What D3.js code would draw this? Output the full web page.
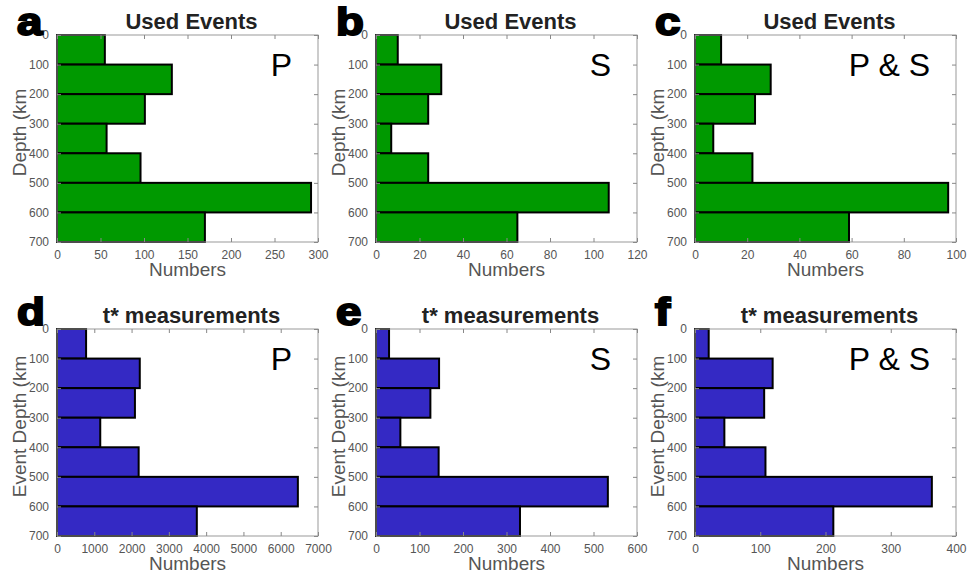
<!DOCTYPE html>
<html>
<head>
<meta charset="utf-8">
<script src="https://cdn.jsdelivr.net/npm/d3@7"></script>
<style>
  body { margin: 0; background: #fff; }
  svg { display: block; font-family: "Liberation Sans", Arial, sans-serif; }
</style>
</head>
<body>
<svg id="chart" width="967" height="575"></svg>
<script>
// depth bins (km)
const depthBins = [0, 100, 200, 300, 400, 500, 600, 700];

// counts per bin
const usedP = [55, 132, 101, 57, 96, 292, 170];
const usedS = [10, 30, 24, 7, 24, 107, 65];
const usedPS = [10, 29, 23, 7, 22, 97, 59];
const tstarP = [780, 2220, 2090, 1160, 2190, 6460, 3750];
const tstarS = [30, 145, 125, 56, 144, 533, 331];
const tstarPS = [21, 119, 106, 45, 108, 363, 212];

const panelLetters = ["a", "b", "c", "d", "e", "f"];
const phaseLabels = ["P", "S", "P & S", "P", "S", "P & S"];
const xMax = [300, 120, 100, 7000, 600, 400];
const xStep = [50, 20, 20, 1000, 100, 100];
const rowTitles = ["Used Events", "t* measurements"];
const rowYLabels = ["Depth (km", "Event Depth (km"];
const rowColors = ["#009900", "#3429c4"];

const series = [usedP, usedS, usedPS, tstarP, tstarS, tstarPS];

const svg = d3.select("svg#chart");
const colX = [57, 376, 695];
const rowY = [35, 329];
const pw = 261, ph = 207;

series.forEach((vals, i) => {
  const row = Math.floor(i / 3), col = i % 3;
  const g = svg.append("g")
    .attr("transform", `translate(${colX[col]},${rowY[row]})`);

  const x = d3.scaleLinear().domain([0, xMax[i]]).range([0, pw]);
  const y = d3.scaleLinear().domain([0, 700]).range([0, ph]);
  const xTicks = d3.range(0, xMax[i] + 1e-9, xStep[i]);
  const yTicks = depthBins;

  const bins = vals.map((v, k) => ({ v, y0: depthBins[k], y1: depthBins[k + 1] }));

  // bars
  g.selectAll("rect.bar")
    .data(bins)
    .enter()
    .append("rect")
    .attr("class", "bar")
    .attr("x", x(0))
    .attr("y", (d) => y(d.y0))
    .attr("width", (d) => x(d.v))
    .attr("height", (d) => y(d.y1) - y(d.y0))
    .style("fill", rowColors[row])
    .style("stroke", "#000")
    .style("stroke-width", 2);

  // box
  g.append("rect")
    .attr("width", pw).attr("height", ph)
    .style("fill", "none").style("stroke", "#999").style("stroke-width", 1);

  // inward ticks on all sides
  const tl = 4;
  const axisStyle = (sel) => {
    sel.select(".domain").remove();
    sel.selectAll(".tick line").style("stroke", "#888");
    sel.selectAll(".tick text").style("fill", "#555").style("font-size", "12px");
  };
  g.append("g").attr("transform", `translate(0,${ph})`)
    .call(d3.axisBottom(x).tickValues(xTicks).tickSizeInner(-tl).tickPadding(8).tickFormat(d3.format("d")))
    .call(axisStyle);
  g.append("g")
    .call(d3.axisTop(x).tickValues(xTicks).tickSizeInner(-tl).tickFormat(""))
    .call(axisStyle);
  g.append("g")
    .call(d3.axisLeft(y).tickValues(yTicks).tickSizeInner(-tl).tickPadding(8).tickFormat(d3.format("d")))
    .call(axisStyle);
  g.append("g").attr("transform", `translate(${pw},0)`)
    .call(d3.axisRight(y).tickValues(yTicks).tickSizeInner(-tl).tickFormat(""))
    .call(axisStyle);

  // axis labels
  g.append("text")
    .attr("x", pw / 2).attr("y", ph + 34)
    .attr("text-anchor", "middle")
    .style("font-size", "19px").style("fill", "#555")
    .text("Numbers");
  g.append("text")
    .attr("transform", `translate(-31,${ph / 2 - 6}) rotate(-90)`)
    .attr("text-anchor", "middle")
    .style("font-size", "19px").style("fill", "#555")
    .text(rowYLabels[row]);

  // title
  g.append("text")
    .attr("x", pw / 2 + 4).attr("y", -6)
    .attr("text-anchor", "middle")
    .style("font-size", "22px").style("font-weight", "bold").style("fill", "#222")
    .text(rowTitles[row]);

  // phase label
  g.append("text")
    .attr("x", pw - 26).attr("y", 41)
    .attr("text-anchor", "end")
    .style("font-size", "32px").style("fill", "#000")
    .text(phaseLabels[i]);

  // panel letter
  g.append("text")
    .attr("transform", `translate(-40,${row === 0 ? 0 : -4}) scale(1.2,1)`)
    .style("font-size", "38px").style("font-weight", "bold")
    .style("fill", "#000").style("stroke", "#000").style("stroke-width", 2)
    .text(panelLetters[i]);
});
</script>
</body>
</html>
